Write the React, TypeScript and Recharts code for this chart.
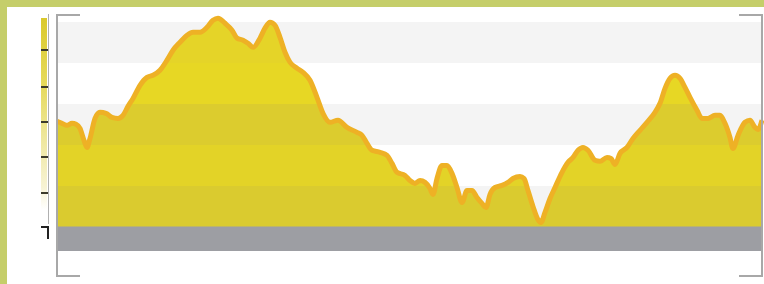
import { AreaChart, Area, XAxis, YAxis, CartesianGrid } from "recharts";

// distance along the profile and the elevation value at each point
const distance = [
  0, 5, 10, 15, 19, 23, 27, 30, 33, 38, 43, 49, 55, 61, 66, 71, 76, 83, 90, 96,
  103, 110, 116, 123, 130, 136, 143, 150, 156, 161, 168, 175, 180, 186, 191, 196,
  203, 208, 213, 218, 223, 228, 233, 240, 246, 253, 260, 266, 273, 281, 290, 300,
  305, 310, 315, 323, 330, 335, 340, 348, 353, 358, 363, 368, 373, 376, 380, 385,
  390, 395, 400, 405, 410, 415, 420, 425, 429, 433, 438, 445, 451, 456, 463, 467,
  471, 476, 481, 484, 488, 493, 498, 505, 511, 516, 521, 526, 531, 538, 543, 550,
  554, 558, 563, 570, 576, 583, 590, 598, 603, 608, 613, 618, 623, 628, 633, 640,
  645, 651, 658, 663, 668, 673, 676, 681, 688, 693, 698, 701, 705,
];
const elevation = [
  51.5, 50.5, 49.5, 50.5, 50, 48, 42.2, 38.7, 43.1, 52.9, 55.9, 55.4, 53.4, 52.9, 54.4, 58.8, 62.7, 69.1, 73, 74,
  76.5, 81.4, 86.3, 90.2, 93.6, 95.1, 95.1, 97.5, 101, 102, 99.5, 96.1, 92.2, 91.2, 89.7, 87.7,
  92.2, 97.1, 100, 98.5, 92.6, 85.3, 80.4, 77.5, 75.5, 71.6, 63.2, 55.4, 51, 52, 48.5, 46.1,
  44.6, 40.7, 37.3, 36.3, 34.8, 30.9, 26.5, 25, 22.5, 21.1, 22.5, 21.6, 18.6, 15.7, 23.5, 29.9,
  29.9, 26, 19.1, 11.8, 17.6, 17.6, 14.2, 11.3, 9.3, 15.7, 19.1, 20.1, 21.6, 23.5, 24.5, 23.5,
  17.6, 9.8, 3.4, 2, 6.9, 13.7, 19.1, 26.5, 31.4, 33.8, 37.3, 38.7, 37.3, 32.4, 31.9, 33.8,
  33.3, 30.4, 35.8, 38.7, 43.1, 47.1, 51, 55.9, 60.3, 67.6, 72.5, 74, 72.5, 68.1, 63.2, 56.9,
  52.9, 52.9, 54.4, 54.4, 50.5, 43.6, 38.2, 44.6, 51, 52, 48.5, 47.5, 52,
];
const bandTicks = [0, 20, 40, 60, 80, 100];
// fill tone inside each band, top band first
const bandTones = ["#e5d428", "#e7d724", "#dccc2e", "#e3d327", "#dacb2f"];

const data = distance.map((d, i) => ({ d, v: elevation[i] }));

const W = 757;
const H = 277;
const MARGIN = { top: 5, right: 2, bottom: 33, left: 50 };
const Y_DOMAIN: [number, number] = [-12, 105];

// y pixel of a value inside the chart svg, used for the banded fill gradient
const yPx = (v: number) =>
  MARGIN.top + ((Y_DOMAIN[1] - v) / (Y_DOMAIN[1] - Y_DOMAIN[0])) * (H - MARGIN.top - MARGIN.bottom);

function bandStops() {
  const stops: { off: number; color: string }[] = [];
  stops.push({ off: 0, color: bandTones[0] });
  for (let i = bandTicks.length - 1; i > 0; i--) {
    const c = bandTones[bandTicks.length - 1 - i];
    stops.push({ off: yPx(bandTicks[i]) / H, color: c }, { off: yPx(bandTicks[i - 1]) / H, color: c });
  }
  stops.push({ off: 1, color: bandTones[bandTones.length - 1] });
  return stops;
}

const line = (s: React.CSSProperties): React.CSSProperties => ({ position: "absolute", ...s });

export default function App() {
  const legendTicks = [43, 79.7, 114.7, 149.7, 186.3];
  return (
    <div style={{ position: "absolute", left: 0, top: 0, width: 764, height: 284, background: "#c5ce6a" }}>
      <div style={{ position: "absolute", left: 7, top: 7, width: W, height: H, background: "#ffffff" }}>
        <AreaChart width={W} height={H} data={data} margin={MARGIN}>
          <defs>
            <linearGradient id="bandFill" gradientUnits="userSpaceOnUse" x1={0} y1={0} x2={0} y2={H}>
              {bandStops().map((s, i) => (
                <stop key={i} offset={s.off} stopColor={s.color} />
              ))}
            </linearGradient>
          </defs>
          <CartesianGrid
            vertical={false}
            stroke="none"
            horizontalFill={["#ffffff", "#f4f4f4", "#ffffff", "#f4f4f4", "#ffffff", "#f4f4f4", "#9d9ea3"]}
          />
          <XAxis dataKey="d" type="number" domain={[0, 705]} hide />
          <YAxis type="number" domain={Y_DOMAIN} ticks={bandTicks} hide />
          <Area
            type="monotone"
            dataKey="v"
            stroke="#eeb125"
            strokeWidth={5}
            fill="url(#bandFill)"
            fillOpacity={1}
            isAnimationActive={false}
            dot={false}
            activeDot={false}
          />
        </AreaChart>

        {/* frame brackets */}
        <div style={line({ left: 49, top: 7, width: 2, height: 263, background: "#a8a8a8" })} />
        <div style={line({ left: 49, top: 7, width: 24, height: 2, background: "#a8a8a8" })} />
        <div style={line({ left: 49, top: 268, width: 24, height: 2, background: "#a8a8a8" })} />
        <div style={line({ left: 754, top: 7, width: 2, height: 263, background: "#a8a8a8" })} />
        <div style={line({ left: 732, top: 7, width: 24, height: 2, background: "#a8a8a8" })} />
        <div style={line({ left: 732, top: 268, width: 24, height: 2, background: "#a8a8a8" })} />

        {/* colour legend bar */}
        <div
          style={line({
            left: 34, top: 11, width: 6, height: 192,
            background: "linear-gradient(to bottom, #dac92c 0%, #e6da5c 35%, #efe8a2 65%, #f7f3d4 88%, #ffffff 100%)",
          })}
        />
        <div style={line({ left: 40.5, top: 7, width: 1.5, height: 210, background: "#b0b0b0" })} />
        {legendTicks.map((t) => (
          <div key={t} style={line({ left: 33.5, top: t - 1, width: 7.5, height: 2, background: "#3b3a2c" })} />
        ))}
        <div style={line({ left: 34, top: 219, width: 8, height: 2, background: "#222" })} />
        <div style={line({ left: 40, top: 219, width: 2, height: 13, background: "#222" })} />
      </div>
    </div>
  );
}
